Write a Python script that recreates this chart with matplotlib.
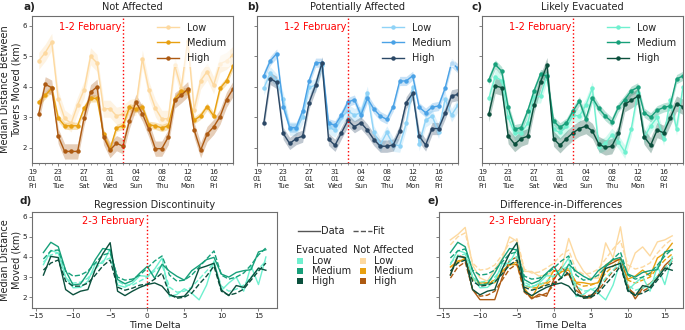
import numpy as np
import pandas as pd
import matplotlib
matplotlib.use("Agg")
import matplotlib.pyplot as plt
import matplotlib.dates as mdates
from matplotlib.patches import Rectangle
from matplotlib.lines import Line2D

# ---------------- data ----------------
dates = pd.date_range("2024-01-20", periods=31, freq="D")
time_delta = list(range(-14, 17))
levels = ["Low", "Medium", "High"]
group_titles = ["Not Affected", "Potentially Affected", "Likely Evacuated"]

na_low = [4.85, 5.12, 5.47, 3.6, 2.96, 2.8, 3.4, 3.9, 5.0, 4.78, 3.28, 3.28, 3.05, 3.1, 3.3, 3.35,
          4.92, 3.9, 3.3, 2.95, 2.95, 4.7, 3.95, 5.5, 3.25, 4.2, 4.5, 4.05, 4.75, 4.85, 5.05]
na_med = [3.5, 3.72, 3.95, 2.98, 2.72, 2.72, 2.72, 3.3, 3.62, 3.62, 2.45, 1.95, 2.65, 2.72, 3.33, 3.27,
          3.35, 2.75, 2.72, 2.65, 2.72, 3.6, 3.85, 3.85, 2.9, 3.05, 3.35, 3.05, 3.95, 4.2, 4.68]
na_high = [3.12, 4.08, 3.97, 2.38, 1.88, 1.88, 1.88, 2.98, 3.82, 4.0, 2.35, 1.92, 2.15, 2.05, 2.88, 3.5,
           3.12, 2.6, 1.97, 1.97, 2.35, 3.55, 3.72, 3.92, 2.58, 1.92, 2.45, 2.68, 3.02, 3.58, 3.93]

pa_low = [3.95, 4.44, 4.2, 3.6, 2.63, 2.62, 3.0, 3.98, 4.05, 4.7, 2.68, 2.57, 3.0, 3.2, 3.07, 3.15,
          3.8, 2.5, 2.1, 2.5, 2.1, 2.07, 2.8, 3.98, 2.12, 2.9, 3.04, 2.52, 3.6, 3.07, 3.4]
pa_med = [4.36, 4.85, 5.09, 3.35, 2.66, 2.66, 3.21, 4.2, 4.79, 4.79, 2.8, 2.74, 3.07, 3.5, 3.58, 3.07,
          3.62, 3.27, 3.04, 2.93, 3.35, 4.19, 4.19, 4.36, 3.33, 3.15, 3.33, 3.37, 3.95, 4.79, 4.6]
pa_high = [2.8, 4.27, 4.14, 2.47, 2.14, 2.3, 2.38, 3.48, 4.05, 4.79, 2.28, 2.08, 2.49, 2.9, 2.69, 2.82,
           2.58, 2.27, 2.05, 2.05, 2.09, 2.55, 3.48, 3.78, 2.38, 2.09, 2.63, 2.63, 3.13, 3.7, 3.75]

ev_low = [3.62, 4.33, 4.2, 3.0, 2.47, 2.49, 2.8, 3.67, 3.69, 4.4, 2.6, 2.5, 2.7, 3.07, 3.04, 3.4,
          3.95, 2.03, 2.14, 2.42, 2.2, 1.87, 2.6, 3.8, 2.34, 2.71, 3.0, 2.3, 3.56, 2.63, 4.0]
ev_med = [4.22, 4.73, 4.51, 3.32, 2.61, 2.66, 3.2, 3.87, 4.42, 4.35, 2.88, 2.67, 2.82, 3.2, 3.53, 2.94,
          3.64, 3.29, 3.04, 2.85, 3.32, 3.58, 3.87, 3.98, 3.15, 3.0, 3.23, 3.32, 3.37, 4.25, 4.36]
ev_high = [3.1, 4.03, 3.97, 2.38, 2.12, 2.3, 2.38, 3.4, 4.16, 4.71, 2.3, 2.08, 2.3, 2.49, 2.63, 2.71,
           2.55, 2.12, 2.01, 2.05, 2.47, 3.43, 3.55, 3.69, 2.36, 2.08, 2.58, 2.49, 2.96, 3.45, 3.34]

# confidence band half-widths (one per series)
na_band = [0.28, 0.12, 0.25]
pa_band = [0.22, 0.15, 0.2]
ev_band = [0.22, 0.15, 0.25]

# regression discontinuity fits (evacuated)
rd_fit_low = [3.75, 4.1, 4.2, 2.95, 2.7, 2.75, 2.95, 3.4, 3.8, 3.95, 2.8, 2.6, 2.6, 2.8, 3.0, 3.3,
              3.6, 2.5, 2.25, 2.3, 2.5, 2.9, 3.3, 3.7, 2.55, 2.3, 2.4, 2.6, 3.0, 3.4, 3.8]
rd_fit_med = [3.9, 4.3, 4.35, 3.3, 3.05, 3.1, 3.3, 3.7, 4.1, 4.2, 3.0, 2.85, 2.9, 3.1, 3.45, 3.8,
              4.05, 3.1, 2.8, 2.85, 3.1, 3.5, 3.9, 4.3, 3.1, 2.9, 3.0, 3.2, 3.6, 4.1, 4.45]
rd_fit_high = [3.35, 3.7, 3.85, 2.8, 2.55, 2.55, 2.7, 3.1, 3.55, 3.85, 2.5, 2.35, 2.45, 2.6, 2.65, 2.9,
               3.2, 2.15, 1.95, 2.0, 2.2, 2.65, 3.05, 3.55, 2.3, 2.1, 2.2, 2.4, 2.85, 3.3, 3.7]

# difference-in-differences fits
did_fit_na_low = [4.6, 5.0, 5.2, 3.7, 3.35, 3.4, 3.6, 4.1, 4.7, 4.9, 3.4, 3.2, 3.25, 3.45, 3.7, 4.1,
                  4.35, 3.35, 3.15, 3.2, 3.4, 3.9, 4.4, 4.8, 3.6, 3.4, 3.5, 3.7, 4.2, 4.6, 4.9]
did_fit_na_med = [3.5, 3.8, 3.9, 2.9, 2.65, 2.7, 2.85, 3.25, 3.6, 3.75, 2.6, 2.45, 2.5, 2.65, 2.95, 3.25,
                  3.45, 2.7, 2.55, 2.6, 2.75, 3.2, 3.55, 3.8, 2.85, 2.7, 2.85, 3.0, 3.45, 3.85, 4.15]
did_fit_na_high = [2.95, 3.5, 3.75, 2.4, 2.05, 2.1, 2.3, 2.85, 3.4, 3.65, 2.25, 1.95, 2.05, 2.2, 2.6, 3.0,
                   3.15, 2.35, 2.05, 2.1, 2.3, 2.85, 3.3, 3.6, 2.45, 2.15, 2.3, 2.5, 3.0, 3.45, 3.8]
did_fit_ev_low = [3.7, 4.05, 4.15, 3.0, 2.75, 2.8, 3.0, 3.4, 3.85, 4.0, 2.75, 2.55, 2.6, 2.8, 3.05, 3.35,
                  3.55, 2.55, 2.3, 2.35, 2.55, 2.95, 3.35, 3.75, 2.6, 2.35, 2.45, 2.65, 3.05, 3.45, 3.85]
did_fit_ev_med = [3.95, 4.3, 4.4, 3.35, 3.1, 3.15, 3.35, 3.75, 4.15, 4.25, 3.05, 2.9, 2.95, 3.15, 3.45, 3.8,
                  4.05, 3.1, 2.85, 2.9, 3.1, 3.5, 3.9, 4.25, 3.1, 2.9, 3.0, 3.2, 3.6, 4.05, 4.4]
did_fit_ev_high = [3.3, 3.7, 3.85, 2.8, 2.55, 2.6, 2.75, 3.15, 3.6, 3.85, 2.5, 2.35, 2.45, 2.6, 2.7, 2.95,
                   3.25, 2.2, 1.95, 2.0, 2.2, 2.65, 3.05, 3.55, 2.3, 2.1, 2.2, 2.4, 2.85, 3.3, 3.7]

event_top = pd.Timestamp("2024-02-02")
tick_dates = pd.date_range("2024-01-19", periods=8, freq="4D")

# ---------------- styles ----------------
na_colors = ["#fdd9a0", "#e8a010", "#ad5a12"]
pa_colors = ["#8fd3f7", "#4aa2e6", "#2b4866"]
ev_colors = ["#6ff0cf", "#17a07a", "#0b503d"]
spine_c = "#6e6e6e"
text_c = "#222222"
FS = 7
TFS = 5

plt.rcParams["font.family"] = ["DejaVu Sans"]
plt.rcParams["axes.edgecolor"] = spine_c
plt.rcParams["xtick.color"] = spine_c
plt.rcParams["ytick.color"] = spine_c
plt.rcParams["xtick.labelcolor"] = text_c
plt.rcParams["ytick.labelcolor"] = text_c

fig = plt.figure(figsize=(6.85, 3.30), dpi=100)
W, H = 685.0, 330.0

def ax_px(x0, x1, ytop, ybot):
    return fig.add_axes([x0 / W, 1 - ybot / H, (x1 - x0) / W, (ybot - ytop) / H])

top_axes = [ax_px(32.3, 233.0, 15.7, 163.3),
            ax_px(257.3, 458.0, 15.7, 163.3),
            ax_px(482.3, 683.0, 15.7, 163.3)]
groups = [(na_low, na_med, na_high), (pa_low, pa_med, pa_high), (ev_low, ev_med, ev_high)]
bands = [na_band, pa_band, ev_band]
colors = [na_colors, pa_colors, ev_colors]

for k, ax in enumerate(top_axes):
    for j, lvl in enumerate(levels):
        v = np.array(groups[k][j])
        bw = bands[k][j]
        ax.fill_between(dates, v - bw, v + bw, color=colors[k][j], alpha=0.3, lw=0)
        ax.plot(dates, v, color=colors[k][j], marker="o", ms=2.2, lw=1.0, label=lvl)
    ax.axvline(event_top, color="red", ls=":", lw=1)
    ax.text(event_top - pd.Timedelta(hours=4), 5.97, "1-2 February", color="red",
            ha="right", va="center", fontsize=FS)
    ax.set_xlim(pd.Timestamp("2024-01-19"), pd.Timestamp("2024-02-19"))
    ax.set_ylim(1.49, 6.33)
    ax.set_yticks([2, 3, 4, 5, 6])
    ax.set_xticks(tick_dates)
    ax.xaxis.set_major_formatter(mdates.DateFormatter("%d\n%m\n%a"))
    ax.xaxis.set_minor_locator(mdates.DayLocator())
    ax.tick_params(axis="both", labelsize=TFS, length=2.5, width=0.6, pad=1.5)
    ax.tick_params(axis="x", which="minor", length=1.5, width=0.5)
    for s in ax.spines.values():
        s.set_linewidth(0.8)
    ax.set_title(group_titles[k], fontsize=FS, color=text_c, pad=4)
    if k > 0:
        ax.set_yticklabels([])
    leg = ax.legend(loc="upper right", fontsize=FS, handlelength=2.3, handletextpad=0.8,
                    labelspacing=0.55, frameon=True, facecolor="white", edgecolor="none",
                    framealpha=0.6, borderaxespad=0.3)
    for t in leg.get_texts():
        t.set_color(text_c)

top_axes[0].set_ylabel("Median Distance Between\nTowers Moved (km)", fontsize=FS, color=text_c)
top_axes[0].yaxis.set_label_coords(-0.052, 0.5)

# bottom panels
ax_d = ax_px(32.3, 277.0, 211.7, 308.3)
ax_e = ax_px(439.3, 683.3, 211.7, 308.3)

ev_series = [ev_low, ev_med, ev_high]
na_series = [na_low, na_med, na_high]
rd_fits = [rd_fit_low, rd_fit_med, rd_fit_high]
for j in range(3):
    ax_d.plot(time_delta, ev_series[j], color=ev_colors[j], lw=1.0)
    ax_d.plot(time_delta, rd_fits[j], color=ev_colors[j], lw=1.0, ls="--")

did_na = [did_fit_na_low, did_fit_na_med, did_fit_na_high]
did_ev = [did_fit_ev_low, did_fit_ev_med, did_fit_ev_high]
for j in range(3):
    ax_e.plot(time_delta, na_series[j], color=na_colors[j], lw=1.0)
    ax_e.plot(time_delta, did_na[j], color=na_colors[j], lw=1.0, ls="--")
for j in range(3):
    ax_e.plot(time_delta, ev_series[j], color=ev_colors[j], lw=1.0)
    ax_e.plot(time_delta, did_ev[j], color=ev_colors[j], lw=1.0, ls="--")

for ax, title in [(ax_d, "Regression Discontinuity"), (ax_e, "Difference-in-Differences")]:
    ax.axvline(0, color="red", ls=":", lw=1)
    ax.text(-0.4, 5.8, "2-3 February", color="red", ha="right", va="center", fontsize=FS)
    ax.set_ylim(1.45, 6.25)
    ax.set_yticks([2, 3, 4, 5, 6])
    ax.set_xticks([-15, -10, -5, 0, 5, 10, 15])
    ax.tick_params(axis="both", labelsize=TFS + 0.2, length=2.5, width=0.6, pad=1.0)
    for s in ax.spines.values():
        s.set_linewidth(0.8)
    ax.set_title(title, fontsize=FS, color=text_c, pad=3)
    ax.set_xlabel("Time Delta", fontsize=FS - 0.2, color=text_c)
    ax.xaxis.set_label_coords(0.5, -0.135)
ax_e.set_yticklabels([])
ax_d.set_ylabel("Median Distance\nMoved (km)", fontsize=FS, color=text_c)
ax_d.yaxis.set_label_coords(-0.043, 0.5)

# panel letters
for txt, x, y in [("a)", 23, 7), ("b)", 247, 7), ("c)", 471, 7), ("d)", 19, 201), ("e)", 427, 201)]:
    fig.text(x / W, 1 - y / H, txt, fontsize=FS + 0.5, fontweight="bold", va="center", color=text_c)

# middle legend: Data / Fit
yl = 1 - 231 / H
fig.add_artist(Line2D([298 / W, 320 / W], [yl, yl], color="#555555", lw=1))
fig.text(321 / W, yl, "Data", fontsize=FS, va="center", color=text_c)
fig.add_artist(Line2D([353 / W, 372 / W], [yl, yl], color="#555555", lw=1, ls="--"))
fig.text(373 / W, yl, "Fit", fontsize=FS, va="center", color=text_c)

fig.text(296 / W, 1 - 250 / H, "Evacuated", fontsize=FS, va="center", color=text_c)
fig.text(353 / W, 1 - 250 / H, "Not Affected", fontsize=FS, va="center", color=text_c)
row_y = [260.5, 270.8, 281.0]
for j, lvl in enumerate(levels):
    yc = row_y[j]
    fig.add_artist(Rectangle((297 / W, 1 - (yc + 3) / H), 6 / W, 6 / H,
                             transform=fig.transFigure, color=ev_colors[j], lw=0))
    fig.text(312 / W, 1 - yc / H, lvl, fontsize=FS, va="center", color=text_c)
    fig.add_artist(Rectangle((360 / W, 1 - (yc + 3) / H), 6 / W, 6 / H,
                             transform=fig.transFigure, color=na_colors[j], lw=0))
    fig.text(374 / W, 1 - yc / H, lvl, fontsize=FS, va="center", color=text_c)

fig.savefig("out.png", dpi=100)
